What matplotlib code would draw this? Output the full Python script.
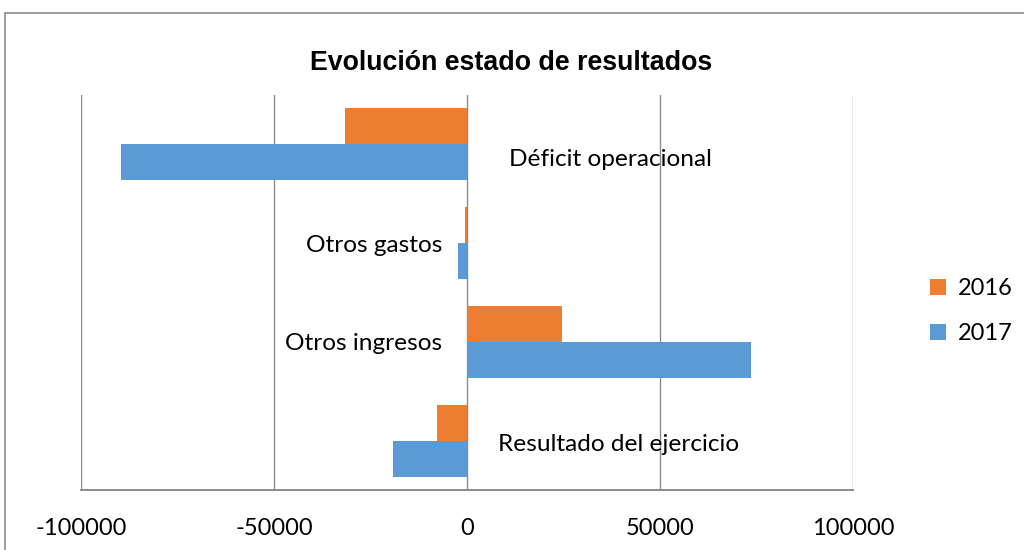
import matplotlib
matplotlib.use("Agg")
import matplotlib.pyplot as plt
from matplotlib.patches import Rectangle
import numpy as np

categories = ["Déficit operacional", "Otros gastos", "Otros ingresos", "Resultado del ejercicio"]
series_names = ["2016", "2017"]
values_2016 = [-31500, -500, 24500, -7800]
values_2017 = [-89700, -2300, 73500, -19200]
x_ticks = [-100000, -50000, 0, 50000, 100000]

c2016 = "#ED7D31"
c2017 = "#5B9BD5"
grid_c = "#8C8C8C"

fig = plt.figure(figsize=(10.24, 5.5), dpi=100)
fig.patch.set_facecolor("white")
# chart border
fig.patches.append(Rectangle((5/1024, -0.05), 1.1, 1 - 13/550 + 0.05, transform=fig.transFigure,
                             fill=False, edgecolor="#8C8C8C", linewidth=1.2))

ax = fig.add_axes([81/1024, 1 - 490/550, 772/1024, 395/550])
n = len(categories)
ypos = np.arange(n)
h = 0.365
ax.barh(ypos - h/2, values_2016, height=h, color=c2016, label=series_names[0], zorder=3)
ax.barh(ypos + h/2, values_2017, height=h, color=c2017, label=series_names[1], zorder=3)
ax.set_ylim(n - 0.5, -0.5)
ax.set_xlim(-100000, 100000)
ax.set_xticks(x_ticks)
ax.set_xticklabels([str(t) for t in x_ticks], family="Lato", fontsize=17)
ax.tick_params(axis="x", length=0, pad=20, colors="#000000")
ax.set_yticks([])
for s in ["top", "left", "right"]:
    ax.spines[s].set_visible(False)
ax.spines["bottom"].set_color(grid_c)
ax.spines["bottom"].set_linewidth(1.4)
for t in x_ticks:
    ax.axvline(t, color=grid_c, linewidth=1.0, zorder=1)

# category labels placed near the axis
lab_kw = dict(family="Lato", fontsize=17.6, va="center", color="#000000", zorder=4)
ax.text(10900, 0.155, categories[0], ha="left", **lab_kw)
ax.text(-6300, 1.02, categories[1], ha="right", **lab_kw)
ax.text(-6500, 2.02, categories[2], ha="right", **lab_kw)
ax.text(8000, 3.035, categories[3], ha="left", **lab_kw)

fig.text(511/1024, 1 - 63/550, "Evolución estado de resultados", ha="center", va="center",
         family="Liberation Sans", fontweight="bold", fontsize=19.3, color="#000000")

leg = fig.legend(loc="upper left", bbox_to_anchor=(921/1024, 1 - 269/550), frameon=False,
                 prop={"family": "Lato", "size": 17}, handlelength=0.65, handleheight=0.65,
                 handletextpad=0.5, labelspacing=1.0, borderaxespad=0)

fig.savefig("out.png", dpi=100, facecolor="white")
